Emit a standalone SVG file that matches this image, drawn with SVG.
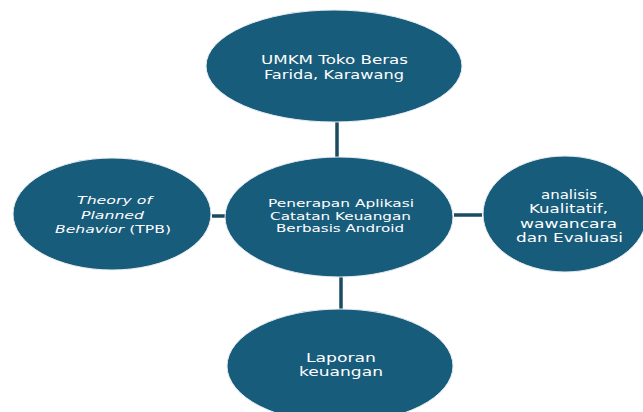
<svg xmlns="http://www.w3.org/2000/svg" width="643" height="412" viewBox="0 0 643 412">
<style>
.n{fill:#185c7c;stroke:#e8eef2;stroke-width:1}
.t{fill:#ffffff;font-family:"DejaVu Sans","Liberation Sans",sans-serif;text-anchor:middle}
.c{stroke:#1b4b60;stroke-width:3.5;fill:none}
</style>
<rect width="643" height="412" fill="#ffffff"/>
<g id="connectors">
<line class="c" x1="337" y1="121" x2="337" y2="158"/>
<line class="c" x1="341" y1="276" x2="341" y2="309"/>
<line class="c" x1="212" y1="216" x2="226" y2="216"/>
<line class="c" x1="454" y1="215" x2="482" y2="215"/>
</g>
<g id="top">
<ellipse class="n" cx="334" cy="66" rx="128" ry="56"/>
<text class="t" font-size="12.5"><tspan x="334.5" y="64" textLength="147" lengthAdjust="spacingAndGlyphs">UMKM Toko Beras</tspan><tspan x="334" y="79" textLength="140" lengthAdjust="spacingAndGlyphs">Farida, Karawang</tspan></text>
</g>
<g id="center">
<ellipse class="n" cx="339" cy="217" rx="114" ry="60"/>
<text class="t" font-size="10"><tspan x="341" y="207" textLength="146" lengthAdjust="spacingAndGlyphs">Penerapan Aplikasi</tspan><tspan x="340.5" y="219.5" textLength="141" lengthAdjust="spacingAndGlyphs">Catatan Keuangan</tspan><tspan x="340" y="232" textLength="128" lengthAdjust="spacingAndGlyphs">Berbasis Android</tspan></text>
</g>
<g id="left">
<ellipse class="n" cx="112" cy="214" rx="99" ry="56"/>
<text class="t" font-size="10.5" font-style="italic"><tspan x="114.5" y="204" textLength="75" lengthAdjust="spacingAndGlyphs">Theory of</tspan><tspan x="112.5" y="218.5" textLength="63" lengthAdjust="spacingAndGlyphs">Planned</tspan></text>
<text class="t" font-size="10.5" x="113" y="233" textLength="116" lengthAdjust="spacingAndGlyphs"><tspan font-style="italic">Behavior</tspan> (TPB)</text>
</g>
<g id="right">
<ellipse class="n" cx="565" cy="214" rx="82" ry="58"/>
<text class="t" font-size="12"><tspan x="569" y="199" textLength="56" lengthAdjust="spacingAndGlyphs">analisis</tspan><tspan x="568.5" y="213" textLength="79" lengthAdjust="spacingAndGlyphs">Kualitatif,</tspan><tspan x="568.5" y="227.5" textLength="97" lengthAdjust="spacingAndGlyphs">wawancara</tspan><tspan x="569.5" y="242" textLength="107" lengthAdjust="spacingAndGlyphs">dan Evaluasi</tspan></text>
</g>
<g id="bottom">
<ellipse class="n" cx="340" cy="366" rx="113" ry="57"/>
<text class="t" font-size="11.5"><tspan x="341" y="362" textLength="70" lengthAdjust="spacingAndGlyphs">Laporan</tspan><tspan x="341" y="376" textLength="84" lengthAdjust="spacingAndGlyphs">keuangan</tspan></text>
</g>
</svg>
